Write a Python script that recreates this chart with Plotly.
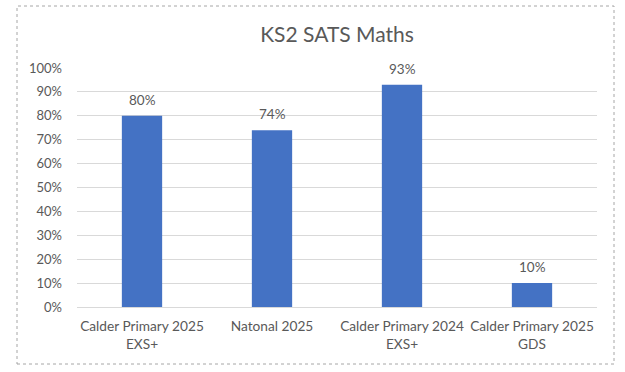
import plotly.graph_objects as go

categories = ["Calder Primary 2025<br>EXS+", "Natonal 2025", "Calder Primary 2024<br>EXS+", "Calder Primary 2025<br>GDS"]
values = [0.80, 0.74, 0.93, 0.10]
labels = ["80%", "74%", "93%", "10%"]
tick_vals = [0, 0.1, 0.2, 0.3, 0.4, 0.5, 0.6, 0.7, 0.8, 0.9, 1.0]

FONT = "Lato, Carlito, 'Liberation Sans', sans-serif"
GREY = "#595959"

fig = go.Figure(go.Bar(
    x=categories, y=values,
    marker=dict(color="#4472C4", line=dict(width=0)),
    cliponaxis=False,
))

for c, v, t in zip(categories, values, labels):
    fig.add_annotation(x=c, y=v, text=t, showarrow=False, yanchor="bottom",
                       yshift=6, font=dict(family=FONT, size=13.5, color=GREY))

L, R, T, B = 77, 28, 68, 65
W, H = 625, 372
pw, ph = W - L - R, H - T - B

def px(x):
    return (x - L) / pw

def py(y):
    return (H - B - y) / ph

fig.add_shape(type="rect", xref="paper", yref="paper",
              x0=px(17), x1=px(614), y0=py(364), y1=py(6),
              line=dict(color="#A6A6A6", width=1, dash="dot"), layer="below")

fig.update_layout(
    width=W, height=H,
    margin=dict(l=L, r=R, t=T, b=B),
    paper_bgcolor="white", plot_bgcolor="white",
    bargap=0.69,
    showlegend=False,
    title=dict(text="KS2 SATS Maths", x=0.5, xref="paper", xanchor="center",
               y=1 - 35 / H, yanchor="middle",
               font=dict(family=FONT, size=21, color=GREY)),
    font=dict(family=FONT, size=13, color=GREY),
    xaxis=dict(showgrid=False, showline=False, ticks="", ticklabelstandoff=9,
               tickfont=dict(size=13.7, color=GREY)),
    yaxis=dict(range=[0, 1.0], tickvals=tick_vals, tickformat=".0%",
               showgrid=True, gridcolor="#D9D9D9", gridwidth=1,
               zeroline=True, zerolinecolor="#D9D9D9", zerolinewidth=1,
               showline=False, ticks="", ticklabelstandoff=14,
               tickfont=dict(size=13, color=GREY)),
)

fig.write_html("out.html", config={"displayModeBar": False},
               post_script="document.body.style.margin='0';document.body.style.overflow='hidden';")
